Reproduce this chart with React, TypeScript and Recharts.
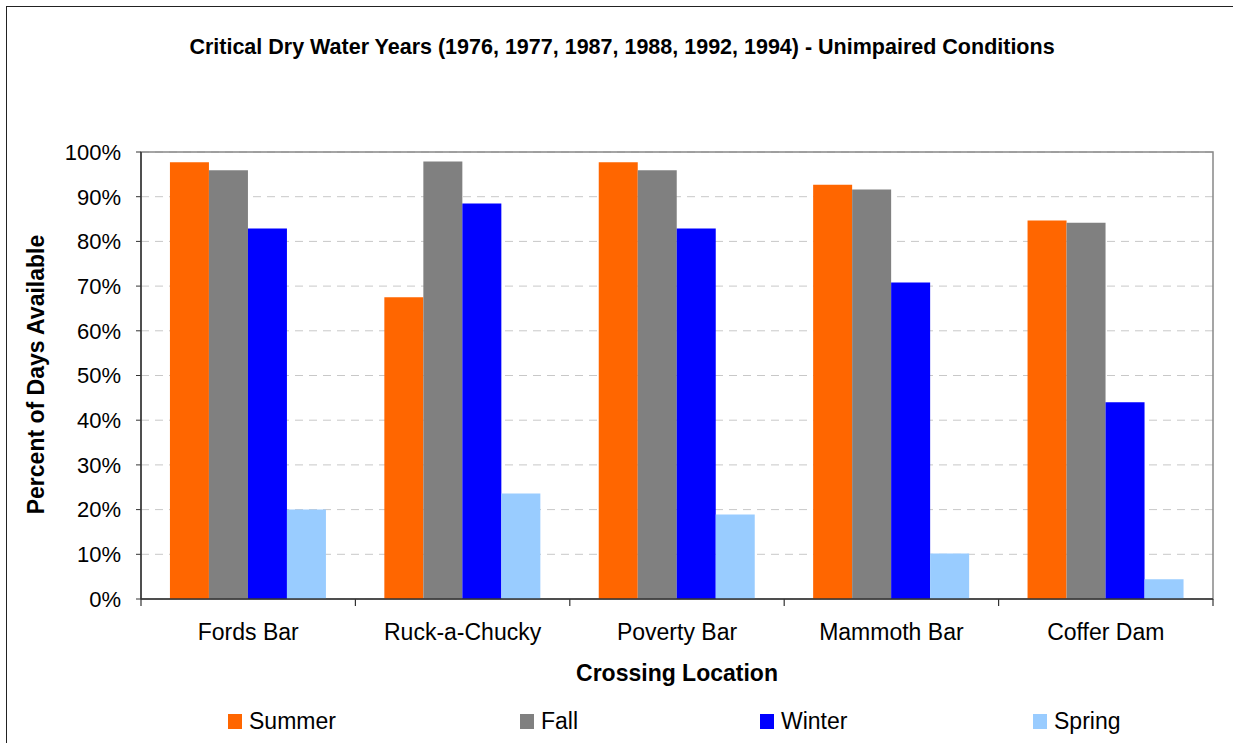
import React from 'react';
import { BarChart, Bar, XAxis, YAxis, CartesianGrid, Legend, ReferenceArea, Label } from 'recharts';

const categories = ['Fords Bar', 'Ruck-a-Chucky', 'Poverty Bar', 'Mammoth Bar', 'Coffer Dam'];
const summer = [97.7, 67.5, 97.7, 92.7, 84.7];
const fall = [95.9, 97.9, 95.9, 91.6, 84.2];
const winter = [82.9, 88.5, 82.9, 70.8, 44.0];
const spring = [20.0, 23.6, 18.9, 10.2, 4.4];
const yTicks = [0, 10, 20, 30, 40, 50, 60, 70, 80, 90, 100];

const seriesNames = ['Summer', 'Fall', 'Winter', 'Spring'];
const seriesColors = ['#FF6600', '#808080', '#0000FF', '#99CCFF'];

const title = 'Critical Dry Water Years (1976, 1977, 1987, 1988, 1992, 1994) - Unimpaired Conditions';
const xTitle = 'Crossing Location';
const yTitle = 'Percent of Days Available';

const data = categories.map((c, i) => ({
  name: c,
  Summer: summer[i],
  Fall: fall[i],
  Winter: winter[i],
  Spring: spring[i],
}));

const FONT = '"Liberation Sans", Arial, sans-serif';
const W = 1233;
const H = 743;
const PLOT_LEFT = 141;
const PLOT_RIGHT = 1213;
const PLOT_TOP = 152;
const PLOT_BOTTOM = 599;
const LEGEND_H = 40;
const BAND = (PLOT_RIGHT - PLOT_LEFT) / categories.length;

const XTick = (props: any) => {
  const { x, payload, index } = props;
  const half = BAND / 2;
  return (
    <g>
      <line x1={x - half} x2={x - half} y1={PLOT_BOTTOM} y2={PLOT_BOTTOM + 7} stroke="#333" strokeWidth={1.2} />
      {index === categories.length - 1 && (
        <line x1={x + half} x2={x + half} y1={PLOT_BOTTOM} y2={PLOT_BOTTOM + 7} stroke="#333" strokeWidth={1.2} />
      )}
      <text x={x} y={PLOT_BOTTOM + 41} textAnchor="middle" fontFamily={FONT} fontSize={23} fill="#000">
        {payload.value}
      </text>
    </g>
  );
};

const YTitle = (props: any) => {
  const vb = props.viewBox || { x: 0, y: PLOT_TOP, width: 141, height: PLOT_BOTTOM - PLOT_TOP };
  const cx = 44;
  const cy = vb.y + vb.height / 2 - 1;
  return (
    <text
      x={cx}
      y={cy}
      transform={`rotate(-90 ${cx} ${cy})`}
      textAnchor="middle"
      fontFamily={FONT}
      fontSize={23}
      fontWeight="bold"
      fill="#000"
    >
      {yTitle}
    </text>
  );
};

const legendLefts = [228, 520, 760, 1033];

const LegendContent = () => (
  <div style={{ position: 'relative', width: W, height: LEGEND_H }}>
    {seriesNames.map((n, i) => (
      <div
        key={n}
        style={{
          position: 'absolute',
          left: legendLefts[i],
          top: 6,
          height: 24,
          display: 'flex',
          alignItems: 'center',
          fontFamily: FONT,
          fontSize: 23,
          color: '#000',
          whiteSpace: 'nowrap',
        }}
      >
        <span style={{ display: 'inline-block', width: 14, height: 15, background: seriesColors[i], marginRight: 7 }} />
        {n}
      </div>
    ))}
  </div>
);

export default function App() {
  return (
    <div style={{ position: 'absolute', left: 0, top: 0, width: W, height: H, overflow: 'hidden', background: '#fff' }}>
      <div
        style={{
          position: 'absolute',
          left: 6,
          top: 6,
          width: W + 20,
          height: H + 20,
          border: '1.5px solid #222',
          boxSizing: 'border-box',
        }}
      />
      <div
        style={{
          position: 'absolute',
          left: 0,
          top: 35,
          width: 1244,
          textAlign: 'center',
          fontFamily: FONT,
          fontSize: 21.5,
          fontWeight: 'bold',
          lineHeight: '24px',
          color: '#000',
          whiteSpace: 'nowrap',
        }}
      >
        {title}
      </div>
      <div style={{ position: 'absolute', left: 0, top: 0 }}>
        <BarChart
          width={W}
          height={H}
          data={data}
          margin={{ top: PLOT_TOP, right: W - PLOT_RIGHT, bottom: 0, left: 0 }}
          barCategoryGap="13.5%"
          barGap={0}
        >
          <CartesianGrid vertical={false} stroke="#c8c8c8" strokeDasharray="8 6" />
          <ReferenceArea y1={0} y2={100} fill="none" stroke="#888" strokeWidth={1.5} ifOverflow="visible" />
          {seriesNames.map((n, i) => (
            <Bar key={n} dataKey={n} fill={seriesColors[i]} isAnimationActive={false} />
          ))}
          <XAxis
            dataKey="name"
            height={H - PLOT_BOTTOM - LEGEND_H}
            tickLine={false}
            axisLine={{ stroke: '#333', strokeWidth: 1.5 }}
            tick={<XTick />}
            interval={0}
          >
            <Label
              value={xTitle}
              position="insideBottom"
              offset={22}
              style={{ fontFamily: FONT, fontSize: 23, fontWeight: 'bold', fill: '#000' }}
            />
          </XAxis>
          <YAxis
            width={PLOT_LEFT}
            domain={[0, 100]}
            ticks={yTicks}
            interval={0}
            tickFormatter={(v: number) => `${v}%`}
            tickSize={5}
            tickMargin={15}
            tickLine={{ stroke: '#333' }}
            axisLine={{ stroke: '#333', strokeWidth: 1.5 }}
            tick={{ fontFamily: FONT, fontSize: 22, fill: '#000' }}
          >
            <Label content={<YTitle />} />
          </YAxis>
          <Legend
            verticalAlign="bottom"
            width={W}
            height={LEGEND_H}
            wrapperStyle={{ left: 0, bottom: 0 }}
            content={<LegendContent />}
          />
        </BarChart>
      </div>
    </div>
  );
}
